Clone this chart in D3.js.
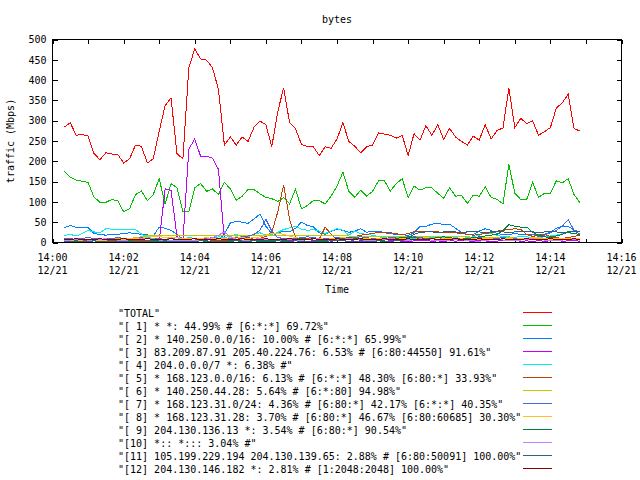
<!DOCTYPE html>
<html><head><meta charset="utf-8">
<script src="https://cdn.jsdelivr.net/npm/d3@7"></script>
<style>
body{margin:0;background:#fff;}
svg{display:block;font-family:"DejaVu Sans Mono",monospace;font-size:10px;}
text{white-space:pre;fill:#000;}
</style></head><body>
<svg id="chart" width="640" height="480"></svg>
<script>
const chartTitle = "bytes";
const yLabel = "traffic (Mbps)";
const xLabel = "Time";
const yTicks = [0,50,100,150,200,250,300,350,400,450,500];
const dateLabel = "12/21";

const seriesNames = [
 "\"TOTAL\"",
 "\"[ 1] * *: 44.99% # [6:*:*] 69.72%\"",
 "\"[ 2] * 140.250.0.0/16: 10.00% # [6:*:*] 65.99%\"",
 "\"[ 3] 83.209.87.91 205.40.224.76: 6.53% # [6:80:44550] 91.61%\"",
 "\"[ 4] 204.0.0.0/7 *: 6.38% #\"",
 "\"[ 5] * 168.123.0.0/16: 6.13% # [6:*:*] 48.30% [6:80:*] 33.93%\"",
 "\"[ 6] * 140.250.44.28: 5.64% # [6:*:80] 94.98%\"",
 "\"[ 7] * 168.123.31.0/24: 4.36% # [6:80:*] 42.17% [6:*:*] 40.35%\"",
 "\"[ 8] * 168.123.31.28: 3.70% # [6:80:*] 46.67% [6:80:60685] 30.30%\"",
 "\"[ 9] 204.130.136.13 *: 3.54% # [6:80:*] 90.54%\"",
 "\"[10] *:: *::: 3.04% #\"",
 "\"[11] 105.199.229.194 204.130.139.65: 2.88% # [6:80:50091] 100.00%\"",
 "\"[12] 204.130.146.182 *: 2.81% # [1:2048:2048] 100.00%\""
];
const seriesColors = ["#ff0000","#00c000","#0080ff","#c000ff","#00eeee","#c04000","#c8c800","#4169e1","#ffc020","#008040","#c080ff","#306080","#8b0000"];

const total = [284,295,264,266,262,219,204,221,218,217,196,206,240,237,196,206,274,337,356,219,206,430,477,452,449,430,377,240,260,240,260,249,284,299,290,236,322,381,295,280,242,236,236,214,236,232,255,295,249,237,221,236,240,270,267,264,257,264,214,268,252,288,264,290,254,281,260,249,240,262,252,290,255,276,282,380,283,306,293,300,264,273,283,331,344,365,280,275];
const s1 = [176,161,154,151,148,112,99,99,106,103,76,83,118,127,103,118,157,95,145,135,76,76,135,145,126,132,118,148,132,104,114,131,130,120,111,108,101,111,95,132,83,91,103,103,95,114,139,173,126,111,129,114,126,152,152,127,145,157,111,139,129,135,135,121,109,135,114,116,96,117,114,137,111,106,95,193,121,106,106,148,111,121,121,152,147,157,118,98];
const s2 = [37,42,37,36,37,22,20,18,20,20,22,24,22,20,19,16,38,35,30,20,8,5,4,6,8,6,8,20,48,52,50,47,58,70,40,22,24,28,26,35,50,42,39,24,20,28,32,30,25,28,34,25,28,28,24,22,20,20,17,24,40,40,45,48,44,45,35,25,20,20,28,34,30,22,20,20,22,20,20,19,19,20,25,35,40,40,30,27];
const s3 = [8,6,7,5,6,5,4,5,6,5,4,5,6,4,3,3,3,132,129,15,3,230,255,212,212,208,180,5,4,6,3,5,8,4,3,6,5,3,4,7,5,3,2,4,6,3,5,4,8,3,2,5,4,6,3,4,5,3,2,4,6,5,3,4,2,5,3,6,4,3,5,4,2,3,6,4,5,3,4,2,5,3,4,6,3,4,5,3];
const s4 = [17,20,16,22,30,26,24,34,33,32,32,32,32,21,13,10,8,8,10,12,8,12,10,8,8,10,14,12,15,20,14,14,20,24,18,20,25,32,36,40,33,30,32,28,22,28,34,30,18,28,22,20,18,14,12,10,12,10,8,10,12,10,12,14,12,10,12,10,12,14,18,26,22,18,14,14,12,16,14,12,12,14,16,18,22,24,22,20];
const s5 = [3,5,4,6,5,4,8,6,5,4,3,5,6,4,5,3,4,6,5,4,3,5,4,6,8,5,4,6,5,8,10,12,8,10,15,25,75,142,57,12,8,10,12,8,38,20,8,10,12,15,18,20,22,25,25,24,22,19,22,27,26,27,27,26,25,24,24,22,20,18,20,22,24,28,30,32,34,32,20,15,18,20,15,12,10,12,15,18];
const s6 = [6,7,8,8,7,8,9,8,8,9,10,10,12,14,17,17,17,17,16,17,17,17,17,17,18,17,17,17,16,17,17,17,17,17,17,17,17,16,17,17,17,17,17,17,17,17,17,17,16,16,16,16,15,15,15,15,15,14,14,14,14,14,14,14,14,14,14,14,14,13,13,13,12,12,12,12,11,11,11,10,10,10,10,10,10,10,10,10];
const s7 = [10,9,8,10,12,10,8,9,10,12,10,9,10,12,10,8,10,12,10,8,6,5,6,8,10,12,10,9,10,12,14,16,20,30,57,28,12,10,9,10,12,14,12,10,9,10,12,11,10,12,14,12,10,9,10,12,11,10,12,14,12,10,9,8,10,12,10,9,10,11,12,10,9,10,12,10,9,8,10,12,14,18,24,30,40,56,30,20];
const s8 = [5,6,5,6,7,6,5,6,7,8,8,9,10,10,14,14,14,13,12,12,10,10,9,10,12,10,8,10,12,14,12,10,12,14,18,22,23,20,16,12,10,8,9,10,8,9,10,12,10,8,9,10,8,9,10,8,9,10,9,8,10,12,10,8,9,10,8,9,10,9,8,10,9,8,9,10,8,9,10,12,12,10,8,9,10,9,8,10];
const s9 = [2,1,2,3,2,1,3,2,1,2,3,2,1,2,3,4,5,3,2,1,2,3,5,6,4,3,2,3,4,5,6,5,4,3,2,3,4,5,6,8,10,8,6,5,4,6,8,10,12,10,8,6,5,4,6,8,10,12,14,12,10,8,10,12,14,12,10,8,10,12,14,16,18,20,30,44,40,38,38,25,18,14,12,16,20,25,22,20];
const s10 = [5,6,8,7,6,5,8,9,7,6,5,6,8,9,10,8,6,5,4,5,6,5,4,6,8,12,18,26,14,8,6,5,8,10,8,6,5,7,8,6,5,8,10,9,7,5,6,8,10,8,6,5,4,6,8,10,8,6,5,7,9,8,6,5,4,6,8,7,5,4,3,5,7,8,6,5,4,6,8,9,7,6,5,4,6,8,7,6];
const s11 = [3,3,4,3,3,4,3,3,2,3,3,4,3,3,2,3,3,4,3,3,2,3,3,4,3,3,2,3,3,4,3,3,4,5,6,5,4,3,3,4,3,3,4,3,3,4,5,4,3,3,4,3,3,4,3,3,4,5,10,20,25,26,26,25,26,26,26,25,26,26,26,25,26,26,26,25,26,26,26,26,25,26,26,26,25,26,26,26];
const s12 = [8,8,9,8,8,8,9,8,8,8,9,8,8,8,9,8,8,8,9,8,8,8,9,8,8,8,9,8,8,8,9,8,8,8,9,8,8,8,9,8,8,8,9,8,8,8,9,8,8,8,9,8,8,8,9,8,8,8,9,8,8,8,9,8,8,8,9,8,8,8,9,8,8,8,9,8,8,8,9,8,8,8,9,8,8,8,9,8];

const seriesValues = [total,s1,s2,s3,s4,s5,s6,s7,s8,s9,s10,s11,s12];

// sample instants: every 10 s starting 14:00:20
const firstSample = new Date(2012,11,21,14,0,20);
const sampleTimes = total.map((_, i) => new Date(firstSample.getTime() + i*10000));
const xStart = new Date(2012,11,21,14,0,0), xEnd = new Date(2012,11,21,14,16,0);

const svg = d3.select("#chart");
const L = 52.5, R = 621.5, T = 39.5, B = 242.5;
const x = d3.scaleTime().domain([xStart, xEnd]).range([L, R]);
const y = d3.scaleLinear().domain([0, 500]).range([B, T]);

const minuteTicks = d3.timeMinute.range(xStart, new Date(xEnd.getTime()+1));
const fmtTime = d3.timeFormat("%H:%M");

// axes ticks (inward, mirrored)
const axB = svg.append("g").attr("transform", `translate(0,${B})`)
  .call(d3.axisBottom(x).tickValues(minuteTicks).tickSize(-4).tickFormat(""));
const axT = svg.append("g").attr("transform", `translate(0,${T})`)
  .call(d3.axisTop(x).tickValues(minuteTicks).tickSize(-4).tickFormat(""));
const axL = svg.append("g").attr("transform", `translate(${L},0)`)
  .call(d3.axisLeft(y).tickValues(yTicks).tickSize(-5).tickPadding(6).tickFormat(d3.format("d")));
const axR = svg.append("g").attr("transform", `translate(${R},0)`)
  .call(d3.axisRight(y).tickValues(yTicks).tickSize(-5).tickFormat(""));
[axB, axT, axL, axR].forEach(a => {
  a.select(".domain").remove();
  a.attr("font-family", null).attr("font-size", null);
  a.selectAll("line").attr("stroke", "#000").attr("shape-rendering", "crispEdges");
});
axL.selectAll("text").attr("fill", "#000");

// bottom labels every 2 minutes, two lines
const labelTicks = minuteTicks.filter(d => d.getMinutes() % 2 === 0);
const lblG = svg.append("g");
labelTicks.forEach(d => {
  lblG.append("text").attr("x", x(d)).attr("y", B + 18).attr("text-anchor", "middle").text(fmtTime(d));
  lblG.append("text").attr("x", x(d)).attr("y", B + 31).attr("text-anchor", "middle").text(dateLabel);
});

// lines
const line = d3.line().x((d, i) => x(sampleTimes[i])).y(d => y(d));
const linesG = svg.append("g");
seriesValues.forEach((vals, k) => {
  linesG.append("path").datum(vals).attr("d", line)
    .attr("fill", "none").attr("stroke", seriesColors[k]).attr("stroke-width", 1)
    .attr("shape-rendering", "crispEdges");
});

// frame
svg.append("rect").attr("x", L).attr("y", T).attr("width", R - L).attr("height", B - T)
  .attr("fill", "none").attr("stroke", "#000").attr("shape-rendering", "crispEdges");

// titles
svg.append("text").attr("x", (L + R) / 2).attr("y", 23).attr("text-anchor", "middle").text(chartTitle);
svg.append("text").attr("x", (L + R) / 2).attr("y", 293).attr("text-anchor", "middle").text(xLabel);
svg.append("text").attr("transform", `translate(14,${(T + B) / 2}) rotate(-90)`)
  .attr("text-anchor", "middle").text(yLabel);

// legend
const legG = svg.append("g");
seriesNames.forEach((name, k) => {
  const ly = 312.5 + 13 * k;
  legG.append("text").attr("x", 118).attr("y", ly + 4).text(name);
  legG.append("line").attr("x1", 523).attr("x2", 552).attr("y1", ly).attr("y2", ly)
    .attr("stroke", seriesColors[k]).attr("shape-rendering", "crispEdges");
});
</script>
</body></html>
